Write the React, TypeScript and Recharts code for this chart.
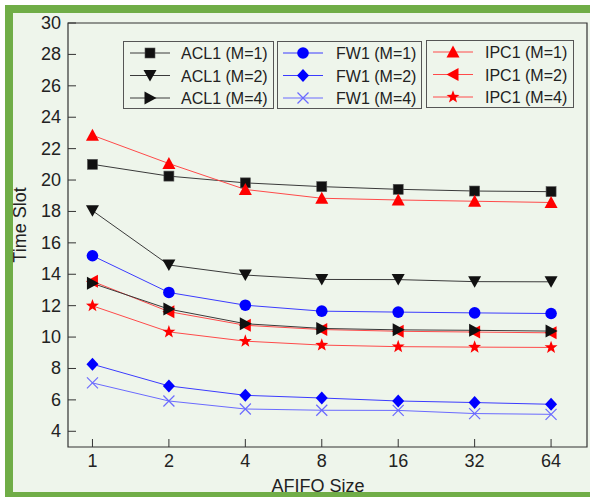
import React from 'react';
import { ComposedChart, Line, XAxis, YAxis, ReferenceArea } from 'recharts';

const sizes = ['1', '2', '4', '8', '16', '32', '64'];
const acl1M1 = [21.0, 20.25, 19.82, 19.58, 19.41, 19.3, 19.26];
const acl1M2 = [18.05, 14.59, 13.95, 13.67, 13.66, 13.53, 13.52];
const acl1M4 = [13.42, 11.78, 10.85, 10.55, 10.46, 10.43, 10.38];
const fw1M1 = [15.18, 12.84, 12.03, 11.65, 11.59, 11.54, 11.5];
const fw1M2 = [8.27, 6.89, 6.29, 6.12, 5.93, 5.83, 5.72];
const fw1M4 = [7.08, 5.93, 5.42, 5.34, 5.33, 5.13, 5.08];
const ipc1M1 = [22.85, 21.05, 19.4, 18.84, 18.73, 18.65, 18.57];
const ipc1M2 = [13.55, 11.62, 10.75, 10.48, 10.37, 10.32, 10.27];
const ipc1M4 = [11.99, 10.33, 9.74, 9.49, 9.39, 9.36, 9.34];
const yTicks = [4, 6, 8, 10, 12, 14, 16, 18, 20, 22, 24, 26, 28, 30];

const data = sizes.map((s, i) => ({
  i,
  acl1M1: acl1M1[i], acl1M2: acl1M2[i], acl1M4: acl1M4[i],
  fw1M1: fw1M1[i], fw1M2: fw1M2[i], fw1M4: fw1M4[i],
  ipc1M1: ipc1M1[i], ipc1M2: ipc1M2[i], ipc1M4: ipc1M4[i],
}));

const FONT = '"Liberation Sans", Arial, sans-serif';
const BLACK_LINE = '#3a3a3a';
const BLACK_MARK = '#111111';
const RED_LINE = '#ff4a4a';
const RED_MARK = '#ff0000';
const BLUE_LINE = '#3b3bff';
const BLUE_MARK = '#0000ff';
const LBLUE = '#6a6aff';

function marker(type: string, cx: number, cy: number, color: string, key?: any) {
  switch (type) {
    case 'square':
      return <rect key={key} x={cx - 5} y={cy - 5} width={10} height={10} fill={color} stroke="#555" strokeWidth={0.6} />;
    case 'circle':
      return <circle key={key} cx={cx} cy={cy} r={5.8} fill={color} />;
    case 'down':
      return <polygon key={key} points={`${cx - 6.5},${cy - 5.5} ${cx + 6.5},${cy - 5.5} ${cx},${cy + 6}`} fill={color} />;
    case 'up':
      return <polygon key={key} points={`${cx - 6.5},${cy + 5.5} ${cx + 6.5},${cy + 5.5} ${cx},${cy - 6.5}`} fill={color} />;
    case 'right':
      return <polygon key={key} points={`${cx - 5.5},${cy - 6.5} ${cx - 5.5},${cy + 6.5} ${cx + 6.5},${cy}`} fill={color} />;
    case 'left':
      return <polygon key={key} points={`${cx + 5.5},${cy - 6.5} ${cx + 5.5},${cy + 6.5} ${cx - 6.5},${cy}`} fill={color} />;
    case 'diamond':
      return <polygon key={key} points={`${cx},${cy - 6.5} ${cx + 6},${cy} ${cx},${cy + 6.5} ${cx - 6},${cy}`} fill={color} />;
    case 'x':
      return (
        <g key={key} stroke={color} strokeWidth={1.2}>
          <line x1={cx - 5.5} y1={cy - 5.5} x2={cx + 5.5} y2={cy + 5.5} />
          <line x1={cx - 5.5} y1={cy + 5.5} x2={cx + 5.5} y2={cy - 5.5} />
        </g>
      );
    case 'star': {
      const pts: string[] = [];
      for (let k = 0; k < 10; k++) {
        const r = k % 2 === 0 ? 6.8 : 2.8;
        const a = -Math.PI / 2 + (k * Math.PI) / 5;
        pts.push(`${cx + r * Math.cos(a)},${cy + r * Math.sin(a)}`);
      }
      return <polygon key={key} points={pts.join(' ')} fill={color} />;
    }
  }
  return null;
}

const dotFor = (type: string, color: string) => (props: any) => {
  const { cx, cy, index } = props;
  if (cx == null || cy == null) return <g key={index} />;
  return <g key={`d${index}`}>{marker(type, cx, cy, color)}</g>;
};

const renderYTick = (props: any) => {
  const { x, y, payload, index } = props;
  return (
    <g key={`yt${index}`}>
      <line x1={x} y1={y} x2={x + 8} y2={y} stroke="#333" strokeWidth={1} />
      <text x={x - 7} y={y + 6} textAnchor="end" fontSize={18} fontFamily={FONT} fill="#222">{payload.value}</text>
    </g>
  );
};

const renderXTick = (props: any) => {
  const { x, y, payload, index } = props;
  return (
    <g key={`xt${index}`}>
      <line x1={x} y1={y} x2={x} y2={y - 8} stroke="#333" strokeWidth={1} />
      <text x={x} y={y + 20} textAnchor="middle" fontSize={18} fontFamily={FONT} fill="#222">{sizes[payload.value]}</text>
    </g>
  );
};

type Series = { key: string; name: string; line: string; mark: string; type: string };
const seriesOrder: Series[] = [
  { key: 'fw1M1', name: 'FW1 (M=1)', line: BLUE_LINE, mark: BLUE_MARK, type: 'circle' },
  { key: 'fw1M2', name: 'FW1 (M=2)', line: BLUE_LINE, mark: BLUE_MARK, type: 'diamond' },
  { key: 'fw1M4', name: 'FW1 (M=4)', line: LBLUE, mark: LBLUE, type: 'x' },
  { key: 'acl1M1', name: 'ACL1 (M=1)', line: BLACK_LINE, mark: BLACK_MARK, type: 'square' },
  { key: 'acl1M2', name: 'ACL1 (M=2)', line: BLACK_LINE, mark: BLACK_MARK, type: 'down' },
  { key: 'ipc1M1', name: 'IPC1 (M=1)', line: RED_LINE, mark: RED_MARK, type: 'up' },
  { key: 'ipc1M2', name: 'IPC1 (M=2)', line: RED_LINE, mark: RED_MARK, type: 'left' },
  { key: 'ipc1M4', name: 'IPC1 (M=4)', line: RED_LINE, mark: RED_MARK, type: 'star' },
  { key: 'acl1M4', name: 'ACL1 (M=4)', line: BLACK_LINE, mark: BLACK_MARK, type: 'right' },
];

const legendBoxes = [
  { x: 123, y: 41, w: 150, h: 67, lineX: 130, textX: 181, keys: ['acl1M1', 'acl1M2', 'acl1M4'] },
  { x: 277, y: 41, w: 144, h: 67, lineX: 283, textX: 336, keys: ['fw1M1', 'fw1M2', 'fw1M4'] },
  { x: 426, y: 40, w: 147, h: 67, lineX: 433, textX: 485, keys: ['ipc1M1', 'ipc1M2', 'ipc1M4'] },
];

export default function App() {
  return (
    <div style={{ position: 'absolute', left: 0, top: 0, width: 590, height: 497, background: '#ffffff', overflow: 'hidden' }}>
      <div style={{ position: 'absolute', left: 5, top: 5, width: 585, height: 492, boxSizing: 'border-box', borderTop: '8px solid #70ad47', borderLeft: '8px solid #70ad47', borderBottom: '5px solid #70ad47', background: '#eef5eb' }} />
      <div style={{ position: 'absolute', left: 0, top: 0 }}>
        <ComposedChart width={590} height={497} data={data} margin={{ top: 23, right: 3, bottom: 0, left: 8 }}>
          <XAxis dataKey="i" type="number" domain={[-0.32, 6.47]} ticks={[0, 1, 2, 3, 4, 5, 6]} allowDataOverflow height={50} tickSize={0} tickMargin={0} axisLine={false} tickLine={false} tick={renderXTick} interval={0} />
          <YAxis type="number" domain={[3, 30]} ticks={yTicks} allowDataOverflow width={60} tickSize={0} tickMargin={0} axisLine={false} tickLine={false} tick={renderYTick} interval={0} />
          <ReferenceArea x1={-0.32} x2={6.47} y1={3} y2={30} fill="none" stroke="#333" strokeWidth={1.2} ifOverflow="visible" />
          {seriesOrder.map((s) => (
            <Line key={s.key} dataKey={s.key} stroke={s.line} strokeWidth={1} isAnimationActive={false} dot={dotFor(s.type, s.mark)} activeDot={false} />
          ))}
        </ComposedChart>
      </div>
      <svg width={590} height={497} style={{ position: 'absolute', left: 0, top: 0, pointerEvents: 'none' }}>
        <text x={0} y={0} transform="translate(26,225) rotate(-90)" textAnchor="middle" fontSize={18} fontFamily={FONT} fill="#222">Time Slot</text>
        <text x={318} y={492} textAnchor="middle" fontSize={18} fontFamily={FONT} fill="#222">AFIFO Size</text>
        {legendBoxes.map((b, bi) => (
          <g key={bi}>
            <rect x={b.x + 0.5} y={b.y + 0.5} width={b.w} height={b.h} fill="#eef5eb" stroke="#555" strokeWidth={1} />
            {b.keys.map((k, ri) => {
              const s = seriesOrder.find((q) => q.key === k)!;
              const cy = b.y + 12 + ri * 22.5;
              return (
                <g key={k}>
                  <line x1={b.lineX} y1={cy} x2={b.lineX + 40} y2={cy} stroke={s.line} strokeWidth={1} />
                  {marker(s.type, b.lineX + 20, cy, s.mark)}
                  <text x={b.textX} y={cy + 6} fontSize={16} fontFamily={FONT} fill="#222">{s.name}</text>
                </g>
              );
            })}
          </g>
        ))}
      </svg>
    </div>
  );
}
